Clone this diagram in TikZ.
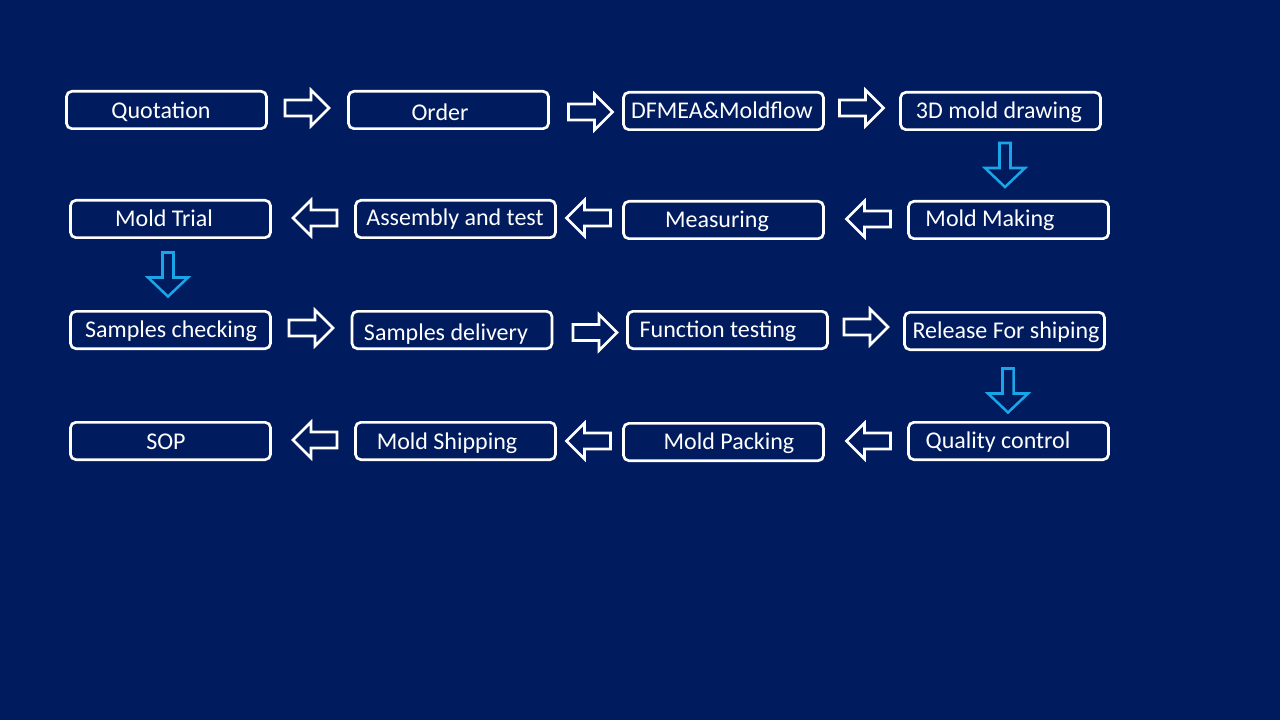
\documentclass[tikz,border=0pt]{standalone}
\usepackage{fontspec}
\setmainfont{Carlito}
\definecolor{bgnavy}{RGB}{0,27,94}
\definecolor{arrblue}{RGB}{25,165,232}
\tikzset{
  stepbox/.style={draw=white, line width=2pt, rounded corners=4pt, fill=bgnavy,
    minimum width=150pt, minimum height=28pt, inner sep=0pt},
  steptext/.style={text=white, font=\fontsize{18pt}{21pt}\selectfont, anchor=base, inner sep=0pt, yshift=-1.2pt},
  whitearr/.pic={\draw[white, line width=1.9pt, line join=miter]
     (-22,-8) -- (4,-8) -- (4,-18) -- (22,0) -- (4,18) -- (4,8) -- (-22,8) -- cycle;},
  bluearr/.pic={\draw[arrblue, line width=1.9pt, line join=miter]
     (-22,-5.5) -- (3,-5.5) -- (3,-20) -- (22,0) -- (3,20) -- (3,5.5) -- (-22,5.5) -- cycle;}
}
\begin{document}
\begin{tikzpicture}[x=0.75pt,y=-0.75pt]
\fill[bgnavy] (0,0) rectangle (1280,720);
\useasboundingbox (0,0) rectangle (1280,720);
% boxes
\node[stepbox] (b1) at (166.5,110) {};
\node[stepbox] (b2) at (448.5,110) {};
\node[stepbox] (b3) at (723.5,111) {};
\node[stepbox] (b4) at (1000.5,111) {};
\node[stepbox] (b5) at (1008.5,220) {};
\node[stepbox] (b6) at (723.5,220) {};
\node[stepbox] (b7) at (455.5,219) {};
\node[stepbox] (b8) at (170.5,219) {};
\node[stepbox] (b9) at (170.5,330) {};
\node[stepbox] (b10) at (452,330) {};
\node[stepbox] (b11) at (727.5,330) {};
\node[stepbox] (b12) at (1004.5,331) {};
\node[stepbox] (b13) at (1008.5,441) {};
\node[stepbox] (b14) at (723.5,442) {};
\node[stepbox] (b15) at (455.5,441) {};
\node[stepbox] (b16) at (170.5,441) {};
% texts
\node[steptext] (t1) at (161,117) {Quotation};
\node[steptext] (t2) at (440,119) {Order};
\node[steptext] (t3) at (722,117) {DFMEA\&Moldflow};
\node[steptext] (t4) at (999,117) {3D mold drawing};
\node[steptext] (t5) at (990,225) {Mold Making};
\node[steptext] (t6) at (717,226) {Measuring};
\node[steptext] (t7) at (455,224) {Assembly and test};
\node[steptext] (t8) at (164,225) {Mold Trial};
\node[steptext] (t9) at (171,336) {Samples checking};
\node[steptext] (t10) at (446,339) {Samples delivery};
\node[steptext] (t11) at (718,336) {Function testing};
\node[steptext] (t12) at (1006,337) {Release For shiping};
\node[steptext] (t13) at (998,447) {Quality control};
\node[steptext] (t14) at (729,448) {Mold Packing};
\node[steptext] (t15) at (447,448) {Mold Shipping};
\node[steptext] (t16) at (166,448) {SOP};
% arrows
\pic at (307,108) {whitearr};
\pic at (590.5,112) {whitearr};
\pic at (861.5,108) {whitearr};
\pic[rotate=-90] at (1005,165) {bluearr};
\pic[rotate=180] at (868.5,219) {whitearr};
\pic[rotate=180] at (588.5,218) {whitearr};
\pic[rotate=180] at (315,218) {whitearr};
\pic[rotate=-90] at (168,274.5) {bluearr};
\pic at (311,328) {whitearr};
\pic at (595,332.5) {whitearr};
\pic at (866,327) {whitearr};
\pic[rotate=-90] at (1008,390.5) {bluearr};
\pic[rotate=180] at (868.5,441) {whitearr};
\pic[rotate=180] at (588.5,441) {whitearr};
\pic[rotate=180] at (315,440) {whitearr};
\end{tikzpicture}
\end{document}
